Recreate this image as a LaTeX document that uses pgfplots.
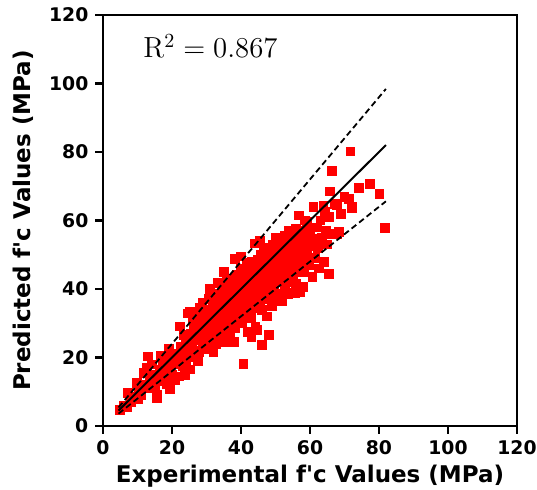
\documentclass[border=0pt]{standalone}
\usepackage{fontspec}
\usepackage{pgfplots}
\pgfplotsset{compat=1.18}
\newfontfamily\dejavu{DejaVu Sans}
\begin{document}
\begin{tikzpicture}
\useasboundingbox (-51.5pt,-32pt) rectangle (217pt,213pt);
\begin{axis}[
  at={(0,0)}, anchor=south west,
  clip marker paths=true,
  scale only axis, width=207pt, height=205.5pt,
  xmin=0, xmax=120, ymin=0, ymax=120,
  xtick={0,20,...,120}, ytick={0,20,...,120},
  axis line style={line width=1.3pt},
  tick style={line width=1.1pt, black},
  tick align=outside, major tick length=3.8pt,
  xtick pos=bottom, ytick pos=left,
  /pgf/number format/assume math mode=true,
  ticklabel style={font=\dejavu\bfseries\fontsize{9.4}{11}\selectfont},
  xlabel={Experimental f'c Values (MPa)},
  ylabel={Predicted f'c Values (MPa)},
  label style={font=\dejavu\bfseries\fontsize{11.5}{13}\selectfont},
  xlabel style={yshift=2pt},
  ylabel style={yshift=1pt},
  clip=false,
]
\addplot[only marks, mark=square*, mark size=2.2pt, color=red, mark options={draw=red, fill=red}] coordinates {
(4.9,4.6)(6,6)(7.3,9.7)(7,5.5)(8,7)
(9,8.5)(9.8,12.6)(10.2,7.8)(10.5,10.5)(11,9)(11.7,15.5)(11.5,12)
(12.7,16.9)(13.1,20.3)(13,11)(13.5,13.5)(14,15)(14.5,12.5)(14.2,18)
(15.1,11.6)(15.6,8.2)(15.6,9.2)(16,14)(16.5,16.5)(17,13)(17.2,18.5)(17.8,15.5)(16.8,20.5)
(18.4,12.4)(18.8,17)(19.4,10.7)(19.5,19.5)(20,15)(20.3,21)(20.8,18)(19,22.5)(21,13.5)
(21.9,14.5)(22.3,18.9)(22,20.5)(22.3,29.1)(22.5,23)(23,17.5)(23.3,26.7)(23.5,21.5)(24,19)(24,25)(23.8,14.8)
(24.7,32.9)(25.2,16.5)(25.2,33.4)(25,22.5)(25.5,27)(25.8,24)(26,20)(26.3,29)(26.5,26)(26.8,22)(26,31)
(27,25)(27.3,28.5)(27.5,33)(27.8,21.5)(28.1,34.4)(28.3,26.5)(28.6,30)(29,24)(29.2,28)(29.5,32)(29.8,22.5)(28.8,36)(29.5,27)(27.5,19)
(30,30)(30.2,26)(30.4,34)(30.6,23)(30.8,37)(31,28.5)(31.3,32)(31.5,25)(31.7,35.5)(32,30)(32.2,27.5)(32.4,38.5)(32.6,33)(32.8,24)(33,36)(31,40)(32,21.5)
(33.4,41.7)(33.5,29)(33.7,33.5)(34,31)(34.2,38)(34.4,26.5)(34.6,35)(34.8,40)(35,32.5)(35.2,29)(35.4,37)(35.6,24.5)(35.8,42)(36,34)(33.8,27)(35,45)
(36.2,39.5)(36.4,30.5)(36.6,36.5)(36.8,27.5)(37,43)(37.2,33)(37.4,38)(37.6,31)(37.8,35.5)(38,41)(38.3,48.9)(38.2,28.5)(38.4,37)(38.6,33.5)(38.8,44)(39,30)(39.2,39)(36.5,25)(38,24.5)
(39.4,36)(39.6,42.5)(39.8,33)(40,46)(40.2,38)(40.4,30.5)(40.7,18.2)(40.6,41)(40.8,35)(41,44.5)(41.2,32)(41.4,39.5)(41.6,47.5)(41.8,36.5)(42,42)(42,27.5)(40,49.5)
(42.2,34)(42.4,45)(42.6,39)(42.8,31.5)(43,48)(43.2,37)(43.4,42.5)(43.6,34.5)(43.8,46)(44.1,53.3)(44,40)(44.2,29)(44.4,44)(44.6,28.1)(44.8,37.5)(45,48.5)(43,26)
(45.2,42)(45.4,35)(45.6,50)(45.8,39.5)(46,23.7)(46,33.9)(46.2,45.5)(46.4,41)(46.6,52)(46.8,37)(47,47.5)(47.2,43.5)(47.4,32)(47.6,49.5)(47.8,40)(48,26.7)(48,45)(45.5,54)
(48.2,51.5)(48.4,38)(48.6,42.5)(48.8,47)(49,35)(49.2,53)(49.4,44)(49.6,40.5)(49.8,49)(50,37)(50.2,55)(50.4,46)(50.6,42)(50.8,51)(51,38.5)(51,48.5)
(51.2,44)(51.5,53.5)(51.8,36.6)(52.1,42.2)(52,49.5)(52.3,46)(52.6,55.5)(52.8,40)(53,51)(53.2,47.5)(53.5,44)(53.8,57)(54,49)(53.5,38.5)
(54.2,52.5)(54.5,45.5)(54.8,55)(55,42)(55.2,50)(55.5,47.5)(55.7,38.8)(55.8,53)(56,57.5)(56.3,45)(56.7,61.5)(56.5,50.5)(57,54.5)(56,41.5)(57,39)
(57.3,48)(57.6,57)(58,52)(58.3,45)(58.6,60)(59.1,59.6)(59,50)(59.4,55)(59.8,47)(60,57.5)(60.4,52.5)(61,64)(61,54.7)(60.7,43.5)(61.5,49)(58,40.5)
(62,58)(62.3,52)(62.6,46)(63,60)(63.4,55)(63.9,64.4)(64.4,62.5)(64,48)(64.7,57)(65,53)(65.4,61)(65.7,68.5)(66.3,74.4)(66.3,56.2)(65.5,44.5)
(67.3,64.9)(67.8,64.4)(68.3,56.7)(67.8,56.2)(71.2,66.4)(71.7,80.2)(72.1,63.7)(72.1,64)(74.1,69.5)(77.3,70.7)(80.1,67.8)(81.8,57.8)(69,62)(70,67)
};
\addplot[black, line width=1pt, no marks] coordinates {(4.5,4.5)(82,82)};
\addplot[black, line width=0.9pt, dash pattern=on 3pt off 1.8pt, no marks] coordinates {(4.5,5.4)(82,98.4)};
\addplot[black, line width=0.9pt, dash pattern=on 3pt off 1.8pt, no marks] coordinates {(4.5,3.6)(82,65.6)};
\node[anchor=base west, inner sep=0pt, font=\fontsize{14.5}{16}\selectfont] at (axis cs:11.6,107.6) {$\mathrm{R}^2 = 0.867$};
\end{axis}
\end{tikzpicture}
\end{document}
